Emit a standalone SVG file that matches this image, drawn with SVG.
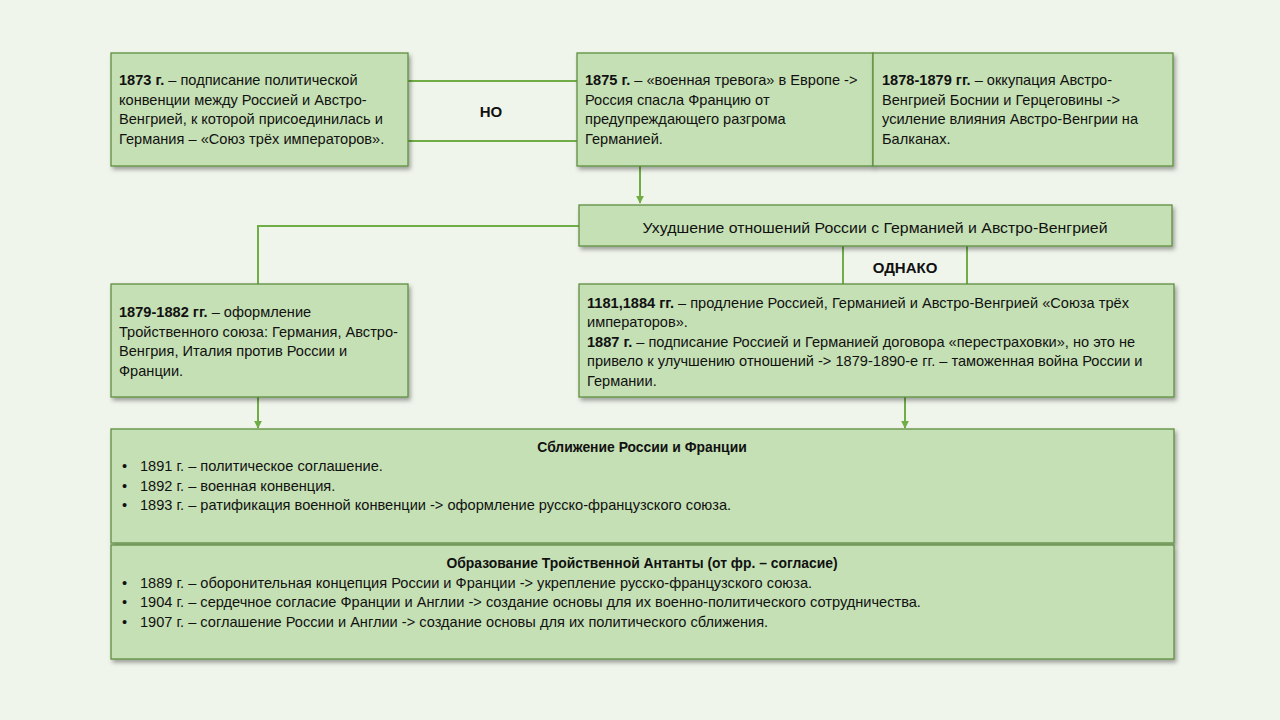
<svg xmlns="http://www.w3.org/2000/svg" width="1280" height="720" viewBox="0 0 1280 720">
<defs>
<filter id="sh" x="-5%" y="-10%" width="110%" height="130%">
<feDropShadow dx="2" dy="3" stdDeviation="2" flood-color="#000" flood-opacity="0.35"/>
</filter>
<marker id="ar" viewBox="0 0 10 10" refX="9" refY="5" markerWidth="8" markerHeight="8" markerUnits="userSpaceOnUse" orient="auto">
<path d="M0,0 L10,5 L0,10 z" fill="#70ad47"/>
</marker>
</defs>
<style>
.box{fill:#c5e0b4;stroke:#5f8f3f;stroke-width:1.3;filter:url(#sh)}
.t{font-family:"Liberation Sans",Arial,sans-serif;font-size:14.6px;fill:#111}
.b{font-weight:bold}
.h{font-family:"Liberation Sans",Arial,sans-serif;font-size:13.9px;font-weight:bold;fill:#111}
.c{font-family:"Liberation Sans",Arial,sans-serif;font-size:15px;fill:#111}
.lbl{font-family:"Liberation Sans",Arial,sans-serif;font-size:15px;font-weight:bold;fill:#111}
.ln{fill:none;stroke:#70ad47;stroke-width:2}
</style>
<rect width="1280" height="720" fill="#f0f5ec"/>

<g id="connectors">
<path class="ln" d="M408,81 H577"/>
<path class="ln" d="M408,141 H577"/>
<path class="ln" d="M640,166 V203" marker-end="url(#ar)"/>
<path class="ln" d="M579,226 H258 V284"/>
<path class="ln" d="M843,246 V284"/>
<path class="ln" d="M967,246 V284"/>
<path class="ln" d="M258,397 V428" marker-end="url(#ar)"/>
<path class="ln" d="M905,397 V428" marker-end="url(#ar)"/>
<text class="lbl" x="491" y="117" text-anchor="middle">НО</text>
<text class="lbl" x="905" y="273" text-anchor="middle">ОДНАКО</text>
</g>

<g id="n1873">
<rect class="box" x="111" y="53" width="297" height="113"/>
<text class="t" x="119" y="85"><tspan class="b">1873 г.</tspan> – подписание политической</text>
<text class="t" x="119" y="104.5">конвенции между Россией и Австро-</text>
<text class="t" x="119" y="124">Венгрией, к которой  присоединилась и</text>
<text class="t" x="119" y="143.5">Германия – «Союз трёх императоров».</text>
</g>

<g id="n1875">
<rect class="box" x="577" y="53" width="296" height="113"/>
<text class="t" x="585" y="85"><tspan class="b">1875 г.</tspan> – «военная тревога» в Европе  -&gt;</text>
<text class="t" x="585" y="104.5">Россия спасла Францию от</text>
<text class="t" x="585" y="124">предупреждающего разгрома</text>
<text class="t" x="585" y="143.5">Германией.</text>
</g>

<g id="n1878">
<rect class="box" x="873" y="53" width="300" height="113"/>
<text class="t" x="882" y="85"><tspan class="b">1878-1879  гг.</tspan> – оккупация Австро-</text>
<text class="t" x="882" y="104.5">Венгрией Боснии и Герцеговины -&gt;</text>
<text class="t" x="882" y="124">усиление влияния Австро-Венгрии на</text>
<text class="t" x="882" y="143.5">Балканах.</text>
</g>

<g id="worsening">
<rect class="box" x="579" y="205" width="593" height="41"/>
<text class="c" x="875" y="233" text-anchor="middle" textLength="465" lengthAdjust="spacingAndGlyphs">Ухудшение  отношений России  с Германией  и  Австро-Венгрией</text>
</g>

<g id="n1879">
<rect class="box" x="111" y="284" width="297" height="113"/>
<text class="t" x="119" y="317"><tspan class="b">1879-1882  гг.</tspan> – оформление</text>
<text class="t" x="119" y="336.5">Тройственного союза: Германия, Австро-</text>
<text class="t" x="119" y="356">Венгрия, Италия против России и</text>
<text class="t" x="119" y="375.5">Франции.</text>
</g>

<g id="n1881">
<rect class="box" x="579" y="284" width="595" height="113"/>
<text class="t" x="587" y="307.5"><tspan class="b">1181,1884  гг.</tspan> – продление Россией, Германией и Австро-Венгрией «Союза трёх</text>
<text class="t" x="587" y="327">императоров».</text>
<text class="t" x="587" y="346.5"><tspan class="b">1887 г.</tspan> – подписание Россией и Германией договора «перестраховки», но это не</text>
<text class="t" x="587" y="366">привело к улучшению отношений -&gt; 1879-1890-е  гг. – таможенная война России и</text>
<text class="t" x="587" y="385.5">Германии.</text>
</g>

<g id="rapprochement">
<rect class="box" x="111" y="429" width="1063" height="114"/>
<text class="h" x="642" y="452" text-anchor="middle">Сближение России и Франции</text>
<text class="t" x="122" y="471">•</text>
<text class="t" x="140" y="471">1891 г. – политическое соглашение.</text>
<text class="t" x="122" y="490.5">•</text>
<text class="t" x="140" y="490.5">1892 г. – военная конвенция.</text>
<text class="t" x="122" y="510">•</text>
<text class="t" x="140" y="510">1893 г. – ратификация военной конвенции -&gt; оформление русско-французского союза.</text>
</g>

<g id="entente">
<rect class="box" x="111" y="545" width="1063" height="114"/>
<text class="h" x="642" y="568" text-anchor="middle">Образование Тройственной Антанты (от фр. – согласие)</text>
<text class="t" x="122" y="587.5">•</text>
<text class="t" x="140" y="587.5">1889 г. – оборонительная концепция России и Франции -&gt; укрепление русско-французского союза.</text>
<text class="t" x="122" y="607">•</text>
<text class="t" x="140" y="607">1904 г. – сердечное согласие Франции и Англии -&gt; создание основы для  их военно-политического сотрудничества.</text>
<text class="t" x="122" y="626.5">•</text>
<text class="t" x="140" y="626.5">1907 г. – соглашение России и Англии -&gt; создание основы для их политического сближения.</text>
</g>
</svg>
